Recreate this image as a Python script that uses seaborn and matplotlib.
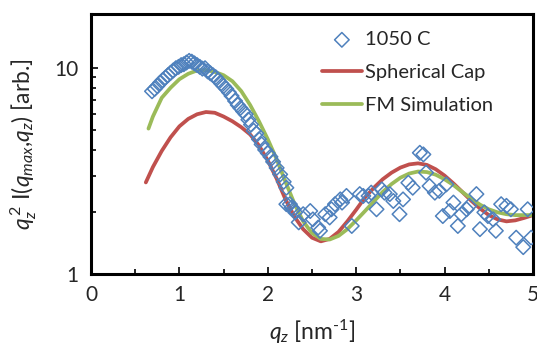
import numpy as np
import pandas as pd
import seaborn as sns
import matplotlib.pyplot as plt
from matplotlib.ticker import FixedLocator, NullFormatter, FormatStrFormatter

# measured data, 1050 C
q_meas = [0.69, 0.72, 0.75, 0.78, 0.81, 0.84, 0.87, 0.90, 0.93, 0.96, 0.99, 1.02,
          1.05, 1.08, 1.11, 1.14, 1.17, 1.20, 1.23, 1.26, 1.29, 1.32, 1.35, 1.38,
          1.41, 1.44, 1.47, 1.50, 1.53, 1.56, 1.59, 1.63, 1.66, 1.69, 1.72, 1.75,
          1.78, 1.81, 1.84, 1.87, 1.90, 1.93, 1.97, 2.00, 2.03, 2.06, 2.10, 2.14,
          2.18, 2.21, 2.21, 2.25, 2.27, 2.29, 2.31, 2.35, 2.40, 2.48, 2.51, 2.57,
          2.59, 2.65, 2.70, 2.72, 2.76, 2.82, 2.84, 2.89, 2.95, 3.04, 3.08, 3.14,
          3.17, 3.23, 3.29, 3.32, 3.38, 3.42, 3.49, 3.53, 3.59, 3.64, 3.72, 3.76,
          3.79, 3.83, 3.89, 3.94, 3.98, 4.02, 4.06, 4.10, 4.15, 4.19, 4.25, 4.28,
          4.36, 4.40, 4.45, 4.49, 4.55, 4.58, 4.64, 4.70, 4.75, 4.81, 4.89, 4.94,
          4.98]
i_meas = [7.69, 7.90, 8.15, 8.45, 8.70, 8.95, 9.20, 9.45, 9.70, 9.95, 10.1, 10.3,
          10.4, 10.6, 10.8, 10.7, 10.5, 10.3, 10.1, 9.90, 9.95, 9.60, 9.40, 9.20,
          9.00, 8.70, 8.40, 8.15, 7.90, 7.60, 7.30, 6.90, 6.60, 6.38, 6.15, 5.95,
          5.60, 5.30, 4.95, 4.80, 4.50, 4.25, 4.00, 3.85, 3.70, 3.50, 3.27, 3.04,
          2.80, 2.62, 2.18, 2.18, 2.10, 2.06, 1.99, 1.78, 1.95, 2.02, 1.84, 1.68,
          1.62, 1.95, 1.88, 2.06, 2.18, 2.30, 2.22, 2.39, 1.71, 2.44, 2.39, 2.39,
          2.48, 2.06, 2.57, 2.48, 2.44, 2.26, 1.95, 2.30, 2.77, 2.62, 3.87, 3.80,
          3.10, 2.67, 2.48, 2.53, 1.91, 2.72, 2.02, 2.22, 1.71, 1.95, 2.06, 2.14,
          2.44, 1.65, 1.99, 1.91, 1.84, 1.62, 2.18, 2.14, 2.06, 1.50, 1.35, 2.06,
          1.50]

# spherical cap model
q_cap = [0.62, 0.7, 0.8, 0.9, 1.0, 1.1, 1.2, 1.3, 1.4, 1.5, 1.6, 1.7, 1.8, 1.9,
         2.0, 2.1, 2.2, 2.3, 2.4, 2.5, 2.6, 2.7, 2.8, 2.9, 3.0, 3.1, 3.2, 3.3,
         3.4, 3.5, 3.6, 3.7, 3.8, 3.9, 4.0, 4.1, 4.2, 4.3, 4.4, 4.5, 4.6, 4.7,
         4.8, 4.9, 5.0]
i_cap = [2.78, 3.30, 3.95, 4.60, 5.20, 5.65, 5.95, 6.10, 6.05, 5.80, 5.50, 5.15,
         4.75, 4.20, 3.55, 2.90, 2.30, 1.90, 1.65, 1.50, 1.44, 1.48, 1.60, 1.80,
         2.05, 2.35, 2.62, 2.88, 3.10, 3.28, 3.40, 3.44, 3.38, 3.22, 3.00, 2.75,
         2.50, 2.27, 2.08, 1.93, 1.84, 1.80, 1.82, 1.87, 1.93]

# FM simulation
q_fm = [0.65, 0.7, 0.8, 0.9, 1.0, 1.1, 1.2, 1.3, 1.4, 1.5, 1.6, 1.7, 1.8, 1.9,
        2.0, 2.1, 2.2, 2.3, 2.4, 2.5, 2.6, 2.7, 2.8, 2.9, 3.0, 3.1, 3.2, 3.3,
        3.4, 3.5, 3.6, 3.7, 3.8, 3.9, 4.0, 4.1, 4.2, 4.3, 4.4, 4.5, 4.6, 4.7,
        4.8, 4.9, 5.0]
i_fm = [5.07, 5.80, 7.15, 8.00, 8.80, 9.35, 9.70, 9.75, 9.55, 9.20, 8.60, 7.70,
        6.60, 5.50, 4.50, 3.60, 2.80, 2.20, 1.80, 1.58, 1.48, 1.47, 1.53, 1.65,
        1.82, 2.02, 2.25, 2.50, 2.73, 2.93, 3.07, 3.14, 3.12, 3.03, 2.88, 2.70,
        2.50, 2.32, 2.17, 2.06, 1.99, 1.95, 1.93, 1.93, 1.93]

meas = pd.DataFrame({'q': q_meas, 'I': i_meas})
cap = pd.DataFrame({'q': q_cap, 'I': i_cap})
fm = pd.DataFrame({'q': q_fm, 'I': i_fm})

sns.set_style("white")
plt.rcParams['font.family'] = ['Lato', 'DejaVu Sans']
plt.rcParams['mathtext.fontset'] = 'custom'
plt.rcParams['mathtext.rm'] = 'Lato'
plt.rcParams['mathtext.it'] = 'Lato:italic'

blue = '#4F81BD'
red = '#C0504D'
green = '#9BBB59'

fig = plt.figure(figsize=(5.37, 3.58), dpi=100)
ax = fig.add_axes([0.1695, 0.2346, 0.823, 0.726])

sns.scatterplot(data=meas, x='q', y='I', marker='D', s=55, fc='none', ec=blue,
                linewidth=1.1, label='1050 C', ax=ax, zorder=3)
sns.lineplot(data=cap, x='q', y='I', color=red, linewidth=2.7, label='Spherical Cap',
             ax=ax, zorder=2)
sns.lineplot(data=fm, x='q', y='I', color=green, linewidth=2.7, label='FM Simulation',
             ax=ax, zorder=2)

ax.set_yscale('log')
ax.set_xlim(0, 5)
ax.set_ylim(1, 18.2)
ax.xaxis.set_major_locator(FixedLocator([0, 1, 2, 3, 4, 5]))
ax.xaxis.set_minor_locator(FixedLocator([0.5, 1.5, 2.5, 3.5, 4.5]))
ax.yaxis.set_major_locator(FixedLocator([1, 10]))
ax.yaxis.set_minor_locator(FixedLocator([2, 3, 4, 5, 6, 7, 8, 9]))
ax.yaxis.set_major_formatter(FormatStrFormatter('%g'))
ax.yaxis.set_minor_formatter(NullFormatter())

for s in ax.spines.values():
    s.set_linewidth(2.2)
    s.set_color('black')
ax.tick_params(which='both', direction='in', labelsize=15, color='black',
               top=False, right=False, bottom=True, left=True)
ax.tick_params(axis='x', pad=8)
ax.tick_params(axis='y', pad=9)
ax.tick_params(which='major', length=5, width=1.2)
ax.tick_params(which='minor', length=3.5, width=1.2)

ax.set_xlabel(r'$q_z$ [nm$^{\text{-}1}$]', fontsize=16.5, labelpad=9)
ax.set_ylabel(r'$q_z^{\,2}$ I($q_{max}$,$q_z$) [arb.]', fontsize=16.5, labelpad=11)

ax.legend(loc='upper left', bbox_to_anchor=(0.522, 0.935), frameon=False, fontsize=14.5,
          handlelength=2.0, handletextpad=0.15, labelspacing=0.78, borderaxespad=0,
          borderpad=0)

plt.savefig('out.png', dpi=100)
